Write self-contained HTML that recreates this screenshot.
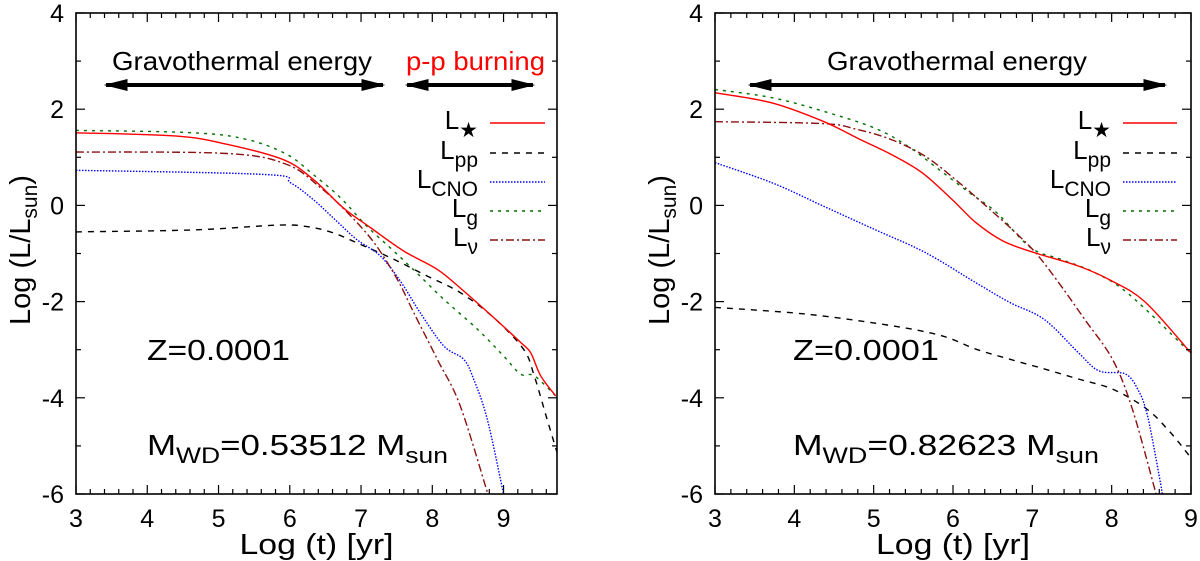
<!DOCTYPE html>
<html><head><meta charset="utf-8"><style>
body{margin:0;background:#fff;}
svg{display:block;font-family:"Liberation Sans","DejaVu Sans",sans-serif;}
</style></head><body>
<svg id="chart" width="1200" height="561" viewBox="0 0 1200 561">
<defs>
<marker id="ah" viewBox="0 0 10 10" refX="9" refY="5" markerWidth="6" markerHeight="3" orient="auto-start-reverse" markerUnits="strokeWidth" preserveAspectRatio="none"><path d="M0,0 L10,5 L0,10 z" fill="#000"/></marker>
</defs>
</svg>
<script>
// ---- Left panel data (Log t, Log L) ----
const L_star_x=[3.0,4.41,5.12,5.91,6.33,6.75,7.13,7.60,8.07,8.44,8.86,9.24,9.38,9.52,9.73];
const L_star_y=[1.51,1.44,1.27,0.95,0.54,-0.05,-0.46,-0.95,-1.33,-1.78,-2.33,-2.85,-3.06,-3.54,-3.96];
const L_g_x=[3.0,4.65,5.40,5.96,6.33,6.71,7.08,7.46,7.78,8.16,8.63,9.00,9.24,9.43,9.73];
const L_g_y=[1.56,1.51,1.37,1.06,0.64,0.16,-0.43,-0.95,-1.40,-1.95,-2.57,-3.13,-3.51,-3.54,-3.96];
const L_nu_x=[3.0,5.12,5.96,6.43,6.81,7.18,7.51,7.74,8.07,8.39,8.78];
const L_nu_y=[1.11,1.08,0.85,0.37,-0.15,-0.77,-1.54,-2.23,-3.20,-4.16,-6.0];
const L_cno_x=[3.0,5.68,6.01,6.33,6.66,6.94,7.27,7.55,7.83,8.16,8.44,8.58,8.77,9.00];
const L_cno_y=[0.73,0.64,0.47,0.12,-0.33,-0.71,-1.05,-1.57,-2.23,-2.92,-3.20,-3.61,-4.44,-6.0];
const L_pp_x=[3.0,4.65,5.82,6.24,6.61,6.99,7.46,7.93,8.39,8.86,9.28,9.43,9.61,9.75];
const L_pp_y=[-0.55,-0.51,-0.41,-0.44,-0.57,-0.81,-1.12,-1.47,-1.81,-2.33,-2.99,-3.54,-4.44,-5.13];
// ---- Right panel data ----
const R_star_x=[3.0,3.72,4.36,4.83,5.22,5.61,5.99,6.29,6.63,7.02,7.58,8.00,8.43,9.01];
const R_star_y=[2.34,2.13,1.75,1.37,1.06,0.68,0.12,-0.36,-0.74,-0.98,-1.26,-1.57,-2.02,-3.09];
const R_g_x=[3.0,3.72,4.36,5.01,5.43,5.82,6.21,6.55,6.98,7.36,7.79,8.22,9.01];
const R_g_y=[2.41,2.24,1.96,1.61,1.23,0.75,0.26,-0.15,-0.88,-1.12,-1.40,-1.85,-3.09];
const R_nu_x=[3.0,4.36,4.79,5.22,5.65,6.08,6.51,6.81,7.06,7.36,7.66,8.01,8.26,8.56];
const R_nu_y=[1.74,1.70,1.58,1.37,1.02,0.47,-0.15,-0.60,-1.02,-1.67,-2.37,-3.20,-4.23,-6.0];
const R_cno_x=[3.0,3.72,4.36,5.01,5.65,6.29,6.72,7.15,7.58,7.84,8.18,8.35,8.44,8.52,8.64];
const R_cno_y=[0.89,0.47,-0.01,-0.50,-0.98,-1.61,-2.02,-2.37,-3.06,-3.44,-3.51,-3.89,-4.30,-4.92,-6.0];
const R_pp_x=[3.0,4.15,5.22,5.86,6.29,6.72,7.15,7.58,8.01,8.44,8.74,9.01];
const R_pp_y=[-2.12,-2.26,-2.50,-2.71,-2.99,-3.20,-3.40,-3.61,-3.82,-4.23,-4.72,-5.27];
const xTicks=[3,4,5,6,7,8,9];
const yTicks=[4,2,0,-2,-4,-6];

const NS="http://www.w3.org/2000/svg";
const svg=document.getElementById('chart');
function mk(tag,attrs,parent){const e=document.createElementNS(NS,tag);for(const k in attrs)e.setAttribute(k,attrs[k]);(parent||svg).appendChild(e);return e;}

const styles={
 star:{stroke:'#ff0000',dash:''},
 pp:{stroke:'#000000',dash:'6,6'},
 cno:{stroke:'#0000ff',dash:'1.5,1.5'},
 g:{stroke:'#007000',dash:'3,5'},
 nu:{stroke:'#8b1010',dash:'8,3,2,3'}
};

function smooth(pts){
  let d='M'+pts[0][0].toFixed(1)+','+pts[0][1].toFixed(1);
  for(let i=0;i<pts.length-1;i++){
    const p0=pts[Math.max(0,i-1)],p1=pts[i],p2=pts[i+1],p3=pts[Math.min(pts.length-1,i+2)];
    const c1=[p1[0]+(p2[0]-p0[0])/6,p1[1]+(p2[1]-p0[1])/6];
    const c2=[p2[0]-(p3[0]-p1[0])/6,p2[1]-(p3[1]-p1[1])/6];
    d+=' C'+c1.map(v=>v.toFixed(1)).join(',')+' '+c2.map(v=>v.toFixed(1)).join(',')+' '+p2[0].toFixed(1)+','+p2[1].toFixed(1);
  }
  return d;
}

function panel(id,x0,x1,xmin,xmax,series,texts){
  const y0=13,y1=494,ymin=-6,ymax=4;
  const sx=v=>x0+(v-xmin)/(xmax-xmin)*(x1-x0);
  const sy=v=>y1-(v-ymin)/(ymax-ymin)*(y1-y0);
  const g=mk('g',{});
  
  
  const cp=mk('clipPath',{id:id+'clip'},g);
  mk('rect',{x:x0,y:y0,width:x1-x0,height:y1-y0},cp);
  for(const s of series){
    const st=styles[s.k];
    const pts=s.x.map((v,i)=>[sx(v),sy(s.y[i])]);
    const p=mk('path',{d:smooth(pts),fill:'none',stroke:st.stroke,'stroke-width':1.4,'stroke-dasharray':st.dash,'clip-path':'url(#'+id+'clip)'},g);
    
    
  }
  const fr=mk('rect',{x:x0,y:y0,width:x1-x0,height:y1-y0,fill:'none',stroke:'#000','stroke-width':1.6},g);
  
  
  for(let v=xmin;v<=xmax+1e-6;v+=0.2){
    const major=Math.abs(v-Math.round(v))<1e-6;const L=major?9:5;const X=sx(v);
    mk('line',{x1:X,x2:X,y1:y1,y2:y1-L,stroke:'#000','stroke-width':1.2},g);
    mk('line',{x1:X,x2:X,y1:y0,y2:y0+L,stroke:'#000','stroke-width':1.2},g);
  }
  for(const v of xTicks){
    const t=mk('text',{x:sx(v),y:527,'font-size':25,'text-anchor':'middle'},g);t.textContent=v;
    
    
  }
  for(let v=ymin;v<=ymax;v+=1){
    const major=v%2===0;const L=major?9:5;const Y=sy(v);
    mk('line',{x1:x0,x2:x0+L,y1:Y,y2:Y,stroke:'#000','stroke-width':1.2},g);
    mk('line',{x1:x1,x2:x1-L,y1:Y,y2:Y,stroke:'#000','stroke-width':1.2},g);
  }
  for(const v of yTicks){
    const t=mk('text',{x:x0-12,y:sy(v)+9,'font-size':25,'text-anchor':'end'},g);t.textContent=v;
    
    
  }
  const xt=mk('text',{x:(x0+x1)/2,y:554,'font-size':29,'text-anchor':'middle',textLength:154,lengthAdjust:'spacingAndGlyphs'},g);xt.textContent='Log (t) [yr]';
  
  
  const yt=mk('text',{x:0,y:0,'font-size':29,'text-anchor':'middle',transform:'translate('+(x0-46)+',250) rotate(-90)'},g);
  yt.innerHTML='Log (L/L<tspan font-size="21" dy="7">sun</tspan><tspan dy="-7">)</tspan>';
  
  
  const lx0=texts.legX0,lx1=texts.legX1,lys=[123,153,182,211,240];
  const labs=[['star','★'],['pp','pp'],['cno','CNO'],['g','g'],['nu','ν']];
  labs.forEach((l,i)=>{
    const st=styles[l[0]];
    const ln=mk('line',{x1:lx0,x2:lx1,y1:lys[i],y2:lys[i],stroke:st.stroke,'stroke-width':1.4,'stroke-dasharray':st.dash},g);
    
    
    const t=mk('text',{x:lx0-12,y:lys[i]+6,'font-size':26,'text-anchor':'end'},g);
    t.innerHTML='L<tspan font-size="21" dy="8">'+l[1]+'</tspan>';
    
    
  });
  const z=mk('text',{x:texts.tx,y:360,'font-size':29,textLength:texts.zw,lengthAdjust:'spacingAndGlyphs'},g);z.textContent='Z=0.0001';
  
  
  const m=mk('text',{x:texts.tx,y:455,'font-size':29,textLength:texts.mw,lengthAdjust:'spacingAndGlyphs'},g);
  m.innerHTML='M<tspan font-size="22" dy="8">WD</tspan><tspan dy="-8">='+texts.mass+' M</tspan><tspan font-size="22" dy="8">sun</tspan>';
  
  
  return g;
}

panel('left',76,557,3,9.75,[
 {k:'pp',x:L_pp_x,y:L_pp_y},{k:'cno',x:L_cno_x,y:L_cno_y},{k:'g',x:L_g_x,y:L_g_y},{k:'nu',x:L_nu_x,y:L_nu_y},{k:'star',x:L_star_x,y:L_star_y}
],{legX0:490,legX1:545,tx:147,mass:'0.53512',zw:143,mw:301});
panel('right',715,1191,3,9,[
 {k:'pp',x:R_pp_x,y:R_pp_y},{k:'cno',x:R_cno_x,y:R_cno_y},{k:'g',x:R_g_x,y:R_g_y},{k:'nu',x:R_nu_x,y:R_nu_y},{k:'star',x:R_star_x,y:R_star_y}
],{legX0:1123,legX1:1177,tx:793,mass:'0.82623',zw:146,mw:306});

function arrow(x1,x2,y,name){
  const a=mk('line',{x1:x1+2,x2:x2-2,y1:y,y2:y,stroke:'#000','stroke-width':4,'marker-start':'url(#ah)','marker-end':'url(#ah)'});
  
  
}
arrow(104,385,85,'gravothermal-arrow-left');
arrow(405,535,85,'pp-burning-arrow');
arrow(748,1167,85,'gravothermal-arrow-right');
let t=mk('text',{x:112,y:70,'font-size':26,textLength:260,lengthAdjust:'spacingAndGlyphs'});t.textContent='Gravothermal energy';


t=mk('text',{x:406,y:70,'font-size':26,fill:'#ff0000',textLength:139,lengthAdjust:'spacingAndGlyphs'});t.textContent='p-p burning';


t=mk('text',{x:827,y:70,'font-size':26,textLength:260,lengthAdjust:'spacingAndGlyphs'});t.textContent='Gravothermal energy';


</script>
</body></html>
